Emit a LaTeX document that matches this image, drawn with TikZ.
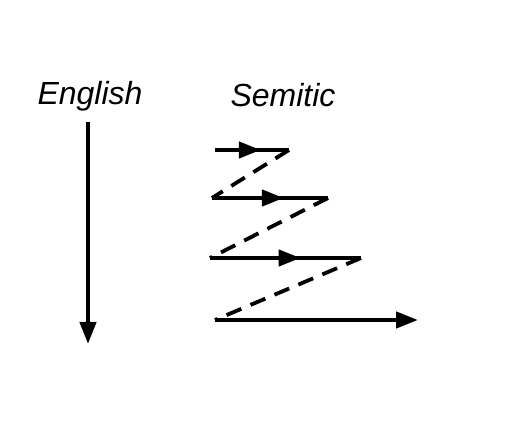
\documentclass[tikz,border=0pt]{standalone}
\usepackage{fontspec}
\setmainfont{Liberation Sans}
\usetikzlibrary{arrows.meta,decorations.markings}
\begin{document}
\begin{tikzpicture}[x=1pt,y=-1pt,
  lbl/.style={font=\fontsize{32}{36}\selectfont\itshape},
  solidln/.style={line width=4.3pt},
  dashln/.style={line width=3.8pt,dash pattern=on 16pt off 10pt},
  tipend/.style={-{Triangle[length=22pt,width=16pt]}},
  midtip/.style={postaction={decorate},decoration={markings,
     mark=at position #1 with {\arrow{Triangle[length=22pt,width=16pt]}}}}]
\useasboundingbox (0,0) rectangle (525,427);
\node[lbl] (eng) at (90,96) {English};
\node[lbl] (sem) at (283,95) {Semitic};
\coordinate (e1) at (88,122);
\coordinate (e2) at (88,344);
\draw[solidln,tipend] (e1) -- (e2);
\coordinate (a1) at (215,150); \coordinate (a2) at (289,150);
\coordinate (b1) at (212,198); \coordinate (b2) at (328,198);
\coordinate (c1) at (210,258); \coordinate (c2) at (361,258);
\coordinate (d1) at (215,320); \coordinate (d2) at (418,320);
\draw[solidln,midtip=0.62] (a1) -- (a2);
\draw[solidln,midtip=0.62] (b1) -- (b2);
\draw[solidln,midtip=0.6] (c1) -- (c2);
\draw[solidln,tipend] (d1) -- (d2);
\draw[dashln] (a2) -- (b1);
\draw[dashln] (b2) -- (c1);
\draw[dashln] (c2) -- (d1);
\end{tikzpicture}
\end{document}
